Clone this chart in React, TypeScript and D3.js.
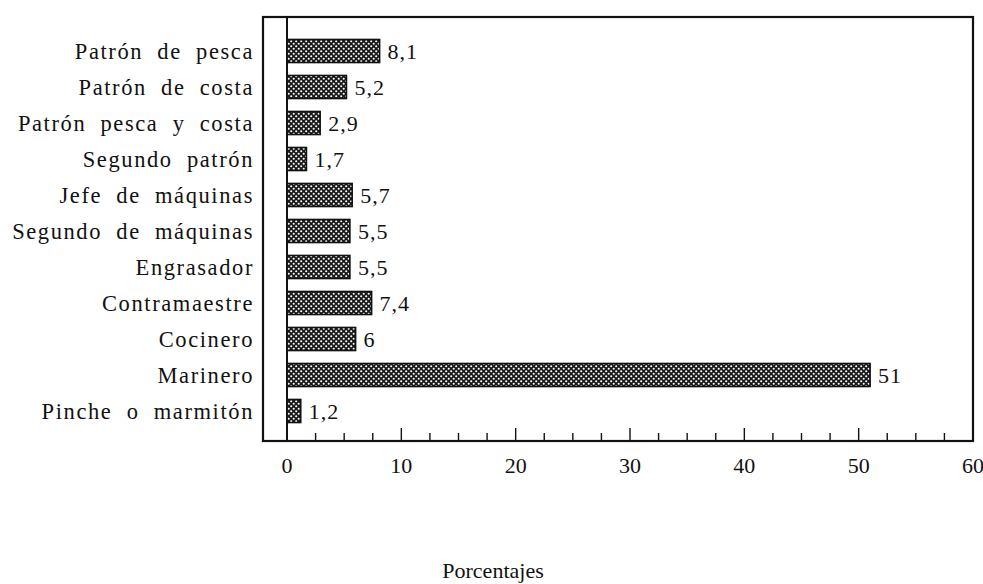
import * as d3 from 'd3';
import { useEffect, useRef } from 'react';

const categories = [
  'Patrón de pesca',
  'Patrón de costa',
  'Patrón pesca y costa',
  'Segundo patrón',
  'Jefe de máquinas',
  'Segundo de máquinas',
  'Engrasador',
  'Contramaestre',
  'Cocinero',
  'Marinero',
  'Pinche o marmitón',
];
const values = [8.1, 5.2, 2.9, 1.7, 5.7, 5.5, 5.5, 7.4, 6, 51, 1.2];
const tickValues = [0, 10, 20, 30, 40, 50, 60];
const axisTitle = 'Porcentajes';

export default function App() {
  const ref = useRef<SVGSVGElement>(null);

  useEffect(() => {
    const svg = d3.select(ref.current);
    svg.selectAll('*').remove();

    const width = 983, height = 584;
    const frame = { left: 263, right: 973, top: 17, bottom: 441 };
    const x0 = 287;

    const x = d3.scaleLinear().domain([0, 60]).range([x0, frame.right]);
    const y = d3.scaleBand().domain(categories).range([33, 429]).paddingInner(0.36).paddingOuter(0.18);

    svg.attr('width', width).attr('height', height);

    const defs = svg.append('defs');
    const pat = defs.append('pattern')
      .attr('id', 'dots')
      .attr('patternUnits', 'userSpaceOnUse')
      .attr('width', 5).attr('height', 5);
    pat.append('rect').attr('width', 5).attr('height', 5).attr('fill', '#1a1a1a');
    pat.append('circle').attr('cx', 1.2).attr('cy', 1.2).attr('r', 1.05).attr('fill', '#fff');
    pat.append('circle').attr('cx', 3.7).attr('cy', 3.7).attr('r', 1.05).attr('fill', '#fff');

    const font = "'Liberation Serif', 'Times New Roman', Times, 'DejaVu Serif', serif";

    // frame
    svg.append('rect')
      .attr('x', frame.left).attr('y', frame.top)
      .attr('width', frame.right - frame.left).attr('height', frame.bottom - frame.top)
      .attr('fill', 'none').attr('stroke', '#111').attr('stroke-width', 2.2);

    // zero line
    svg.append('line')
      .attr('x1', x(0)).attr('x2', x(0))
      .attr('y1', frame.top).attr('y2', frame.bottom)
      .attr('stroke', '#111').attr('stroke-width', 2);

    // ticks
    const minor = d3.range(0, 60, 2.5).filter(v => v > 0);
    svg.append('g').selectAll('line').data(minor).enter().append('line')
      .attr('x1', d => x(d)).attr('x2', d => x(d))
      .attr('y1', frame.bottom)
      .attr('y2', d => frame.bottom - (d % 10 === 0 ? 13 : 8))
      .attr('stroke', '#111').attr('stroke-width', 1.4);

    svg.append('g').selectAll('text').data(tickValues).enter().append('text')
      .attr('x', d => x(d)).attr('y', 473)
      .attr('text-anchor', 'middle')
      .attr('font-family', font).attr('font-size', 22).attr('fill', '#111')
      .text(d => d);

    // bars
    const rows = categories.map((c, i) => ({ c, v: values[i] }));
    svg.append('g').selectAll('rect').data(rows).enter().append('rect')
      .attr('x', x(0))
      .attr('y', d => y(d.c)!)
      .attr('width', d => x(d.v) - x(0))
      .attr('height', y.bandwidth())
      .attr('fill', 'url(#dots)')
      .attr('stroke', '#111').attr('stroke-width', 1.6);

    // value labels
    svg.append('g').selectAll('text').data(rows).enter().append('text')
      .attr('x', d => x(d.v) + 8)
      .attr('y', d => y(d.c)! + y.bandwidth() / 2)
      .attr('dy', '0.35em')
      .attr('font-family', font).attr('font-size', 22).attr('fill', '#111')
      .style('letter-spacing', '1px')
      .text(d => String(d.v).replace('.', ','));

    // category labels
    svg.append('g').selectAll('text').data(categories).enter().append('text')
      .attr('x', 254)
      .attr('y', d => y(d)! + y.bandwidth() / 2)
      .attr('dy', '0.35em')
      .attr('text-anchor', 'end')
      .attr('font-family', font).attr('font-size', 22.5)
      .style('letter-spacing', '1.6px').style('word-spacing', '7px')
      .attr('fill', '#111')
      .text(d => d);

    svg.append('text')
      .attr('x', 493).attr('y', 578)
      .attr('text-anchor', 'middle')
      .attr('font-family', font).attr('font-size', 22).attr('fill', '#111')
      .text(axisTitle);
  }, []);

  return (
    <div style={{ position: 'absolute', left: 0, top: 0 }}>
      <svg ref={ref} style={{ display: 'block', background: '#fff' }} />
    </div>
  );
}
